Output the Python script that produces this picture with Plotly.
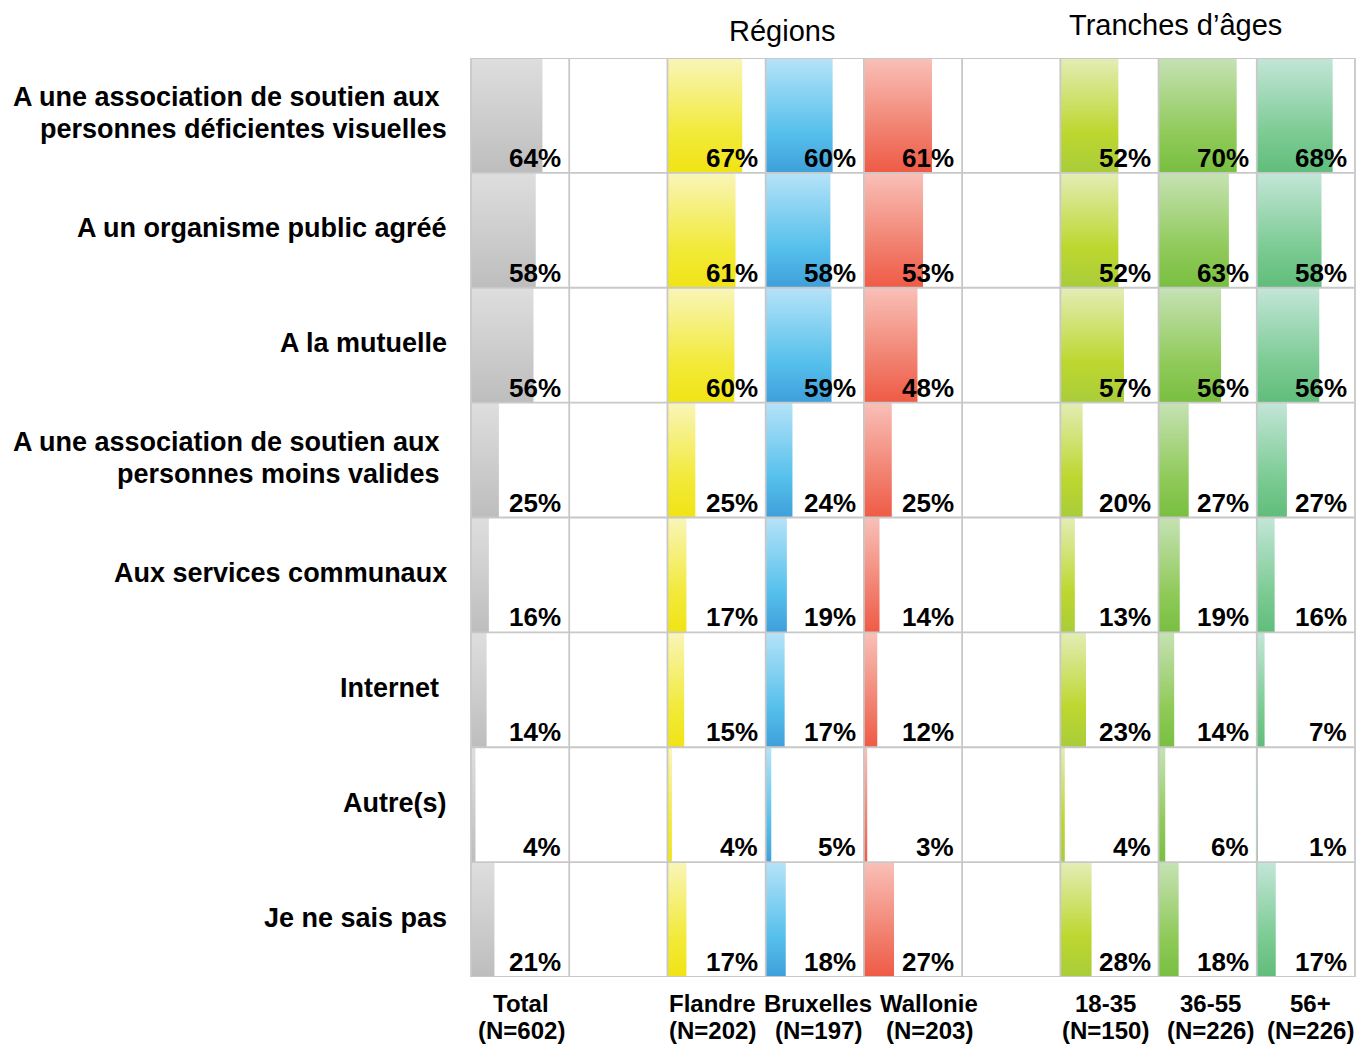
import plotly.graph_objects as go

# ---------------- data ----------------
row_labels = [
    "A une association de soutien aux\u00a0<br>personnes déficientes visuelles",
    "A un organisme public agréé",
    "A la mutuelle",
    "A une association de soutien aux\u00a0<br>personnes moins valides\u00a0",
    "Aux services communaux",
    "Internet\u00a0",
    "Autre(s)",
    "Je ne sais pas",
]
group_names = ["Total", "Flandre", "Bruxelles", "Wallonie", "18-35", "36-55", "56+"]
group_n = ["(N=602)", "(N=202)", "(N=197)", "(N=203)", "(N=150)", "(N=226)", "(N=226)"]

total = [64, 58, 56, 25, 16, 14, 4, 21]
flandre = [67, 61, 60, 25, 17, 15, 4, 17]
bruxelles = [60, 58, 59, 24, 19, 17, 5, 18]
wallonie = [61, 53, 48, 25, 14, 12, 3, 27]
age_18_35 = [52, 52, 57, 20, 13, 23, 4, 28]
age_36_55 = [70, 63, 56, 27, 19, 14, 6, 18]
age_56_plus = [68, 58, 56, 27, 16, 7, 1, 17]

section_titles = ["Régions", "Tranches d’âges"]

series = [total, flandre, bruxelles, wallonie, age_18_35, age_36_55, age_56_plus]

# ---------------- styles ----------------
gradients = [
    [[0, "#dedede"], [0.65, "#c9c9c9"], [1, "#bdbdbd"]],
    [[0, "#f9f5b8"], [0.65, "#f2ea3a"], [1, "#f0e414"]],
    [[0, "#b6e3f8"], [0.65, "#56c0ec"], [1, "#3e9fda"]],
    [[0, "#f9c0b8"], [0.65, "#f17e6c"], [1, "#ef5a45"]],
    [[0, "#e3edb6"], [0.65, "#bdd72f"], [1, "#a9cc3a"]],
    [[0, "#c6e2b4"], [0.65, "#90ca5a"], [1, "#78bf40"]],
    [[0, "#c3e6d8"], [0.65, "#7ccb94"], [1, "#60bd7a"]],
]
FONT = "Liberation Sans, Arial, sans-serif"

OFF = 0
W, H = 1356, 1044
def px(sx):
    return (sx - OFF) / W
def py(sy):
    return 1 - (sy - OFF) / H

GRID_L, GRID_R, GRID_T, GRID_B = 471, 1355, 58, 977
NCOL = 9
COLW = (GRID_R - GRID_L) / NCOL
col_slot = [0, 2, 3, 4, 6, 7, 8]
label_cx = [521, 712, 818, 929, 1105, 1210, 1310]
XMAX = 88
nrows = len(row_labels)

fig = go.Figure()
annotations = []
shapes = []
layout_axes = {}

for k, (vals, slot) in enumerate(zip(series, col_slot)):
    xa = "x" if k == 0 else f"x{k+1}"
    xname = "xaxis" if k == 0 else f"xaxis{k+1}"
    layout_axes[xname] = dict(
        domain=[px(GRID_L + slot * COLW), min(1.0, px(GRID_L + (slot + 1) * COLW))],
        range=[0, XMAX], anchor="y", visible=False, fixedrange=True,
    )
    for i, v in enumerate(vals):
        fig.add_trace(go.Scatter(
            x=[0, v, v, 0, 0], y=[i, i, i + 1, i + 1, i],
            mode="none", fill="toself",
            fillgradient=dict(type="vertical", colorscale=gradients[k], start=i, stop=i + 1),
            xaxis=xa, yaxis="y", hoverinfo="skip", showlegend=False,
        ))
        annotations.append(dict(
            xref=xa, yref="y", x=XMAX, y=i + 1, xanchor="right", yanchor="bottom",
            xshift=-6, yshift=-2, text=f"<b>{v}%</b>", showarrow=False,
            font=dict(family=FONT, size=26, color="#000000"),
        ))
    cx = px(label_cx[k])
    annotations.append(dict(
        xref="paper", yref="paper", x=cx, y=py(1003), xanchor="center", yanchor="middle",
        text=f"<b>{group_names[k]}</b>", showarrow=False,
        font=dict(family=FONT, size=24, color="#000000"),
    ))
    annotations.append(dict(
        xref="paper", yref="paper", x=cx, y=py(1030), xanchor="center", yanchor="middle",
        text=f"<b>{group_n[k]}</b>", showarrow=False,
        font=dict(family=FONT, size=24, color="#000000"),
    ))

layout_axes["yaxis"] = dict(
    domain=[py(GRID_B), py(GRID_T)], range=[nrows, 0], anchor="x",
    visible=False, fixedrange=True,
)

LINE_STEP = 32
for i, lab in enumerate(row_labels):
    parts = lab.split("<br>")
    n = len(parts)
    for j, part in enumerate(parts):
        annotations.append(dict(
            xref="paper", yref="y", x=px(449), y=i + 0.5, xanchor="right", yanchor="middle",
            yshift=2 + ((n - 1) / 2 - j) * LINE_STEP,
            align="right", text=f"<b>{part}</b>", showarrow=False,
            font=dict(family=FONT, size=27, color="#000000"),
        ))

annotations.append(dict(
    xref="paper", yref="paper", x=px(782), y=py(31), xanchor="center", yanchor="middle",
    text=section_titles[0], showarrow=False, font=dict(family=FONT, size=29, color="#000000"),
))
annotations.append(dict(
    xref="paper", yref="paper", x=px(1175), y=py(25), xanchor="center", yanchor="middle",
    text=section_titles[1], showarrow=False, font=dict(family=FONT, size=29, color="#000000"),
))

GRID_COLOR = "#c8c8c8"
for j in range(NCOL + 1):
    gx = min(1.0, px(GRID_L + j * COLW))
    shapes.append(dict(type="line", xref="paper", yref="paper", x0=gx, x1=gx,
                       y0=py(GRID_B), y1=py(GRID_T), layer="above",
                       line=dict(color=GRID_COLOR, width=1.8)))
for i in range(nrows + 1):
    shapes.append(dict(type="line", xref="paper", yref="y", x0=px(GRID_L), x1=min(1.0, px(GRID_R)),
                       y0=i, y1=i, layer="above",
                       line=dict(color=GRID_COLOR, width=1.8)))

fig.update_layout(
    width=W, height=H,
    margin=dict(l=0, r=0, t=0, b=0),
    paper_bgcolor="white", plot_bgcolor="white",
    annotations=annotations, shapes=shapes,
    showlegend=False,
    **layout_axes,
)

fig.write_html(
    "out.html",
    config={"displayModeBar": False},
    post_script="document.body.style.margin='0';document.body.style.overflow='hidden';",
)
